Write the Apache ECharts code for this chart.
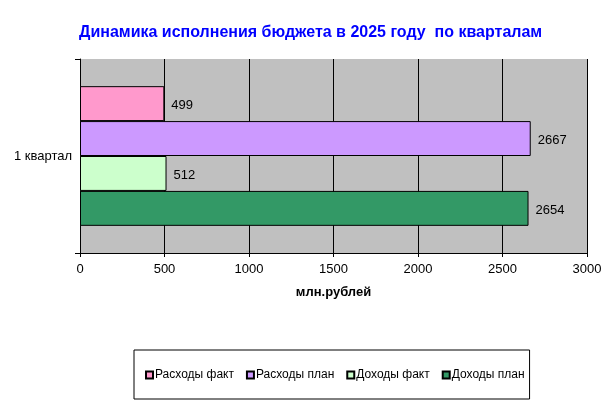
<!DOCTYPE html>
<html><head><meta charset="utf-8">
<script src="https://cdn.jsdelivr.net/npm/echarts@6/dist/echarts.min.js"></script>
<style>html,body{margin:0;padding:0;background:#fff}#c{width:615px;height:414px}</style>
</head><body><div id="c"></div>
<script>
const categories = ['1 квартал'];
const rashodyFakt = [499];
const rashodyPlan = [2667];
const dohodyFakt = [512];
const dohodyPlan = [2654];
const xTicks = [0, 500, 1000, 1500, 2000, 2500, 3000];

const FONT = '"Liberation Sans", Arial, sans-serif';
const chart = echarts.init(document.getElementById('c'));
const lbl = {show: true, position: 'right', distance: 7, offset: [0, 2], color: '#000', fontSize: 13, fontFamily: FONT};
function s(name, data, color) {
  return {name, type: 'bar', data, barGap: '0%', barCategoryGap: '28%',
    itemStyle: {color, borderColor: '#000', borderWidth: 1}, label: lbl, emphasis: {disabled: true}};
}
chart.setOption({
  animation: false,
  textStyle: {fontFamily: FONT},
  title: {text: 'Динамика исполнения бюджета в 2025 году  по кварталам', left: 79, top: 25, padding: 0,
    textStyle: {color: '#0000FF', fontSize: 16, fontWeight: 'bold', fontFamily: FONT}},
  grid: {left: 80, right: 28, top: 59, bottom: 161, show: true, backgroundColor: '#C0C0C0', borderWidth: 0},
  xAxis: {type: 'value', min: xTicks[0], max: xTicks[xTicks.length - 1], interval: xTicks[1] - xTicks[0],
    name: 'млн.рублей', nameLocation: 'middle', nameGap: 33,
    nameTextStyle: {fontWeight: 'bold', fontSize: 13, color: '#000', fontFamily: FONT},
    axisLine: {show: true, lineStyle: {color: '#000'}},
    axisTick: {show: true, length: 4, lineStyle: {color: '#000'}},
    axisLabel: {color: '#000', fontSize: 13, margin: 10, fontFamily: FONT, formatter: v => String(v)},
    splitLine: {show: true, lineStyle: {color: '#000', width: 1}}},
  yAxis: {type: 'category', data: categories,
    axisLine: {show: true, lineStyle: {color: '#000'}},
    axisTick: {show: true, length: 5, lineStyle: {color: '#000'}},
    axisLabel: {color: '#000', fontSize: 13, margin: 8, fontFamily: FONT}},
  legend: {left: 134, top: 350, orient: 'horizontal',
    data: ['Расходы факт', 'Расходы план', 'Доходы факт', 'Доходы план'],
    itemWidth: 7, itemHeight: 7, itemGap: 12, icon: 'rect',
    borderColor: '#000', borderWidth: 1, padding: [19, 5, 18, 11],
    textStyle: {color: '#000', fontSize: 12, fontFamily: FONT, padding: [0, 0, 0, -3]}},
  series: [
    s('Расходы факт', rashodyFakt, '#FF99CC'),
    s('Расходы план', rashodyPlan, '#CC99FF'),
    s('Доходы факт', dohodyFakt, '#CCFFCC'),
    s('Доходы план', dohodyPlan, '#339966')
  ]
});
</script></body></html>
